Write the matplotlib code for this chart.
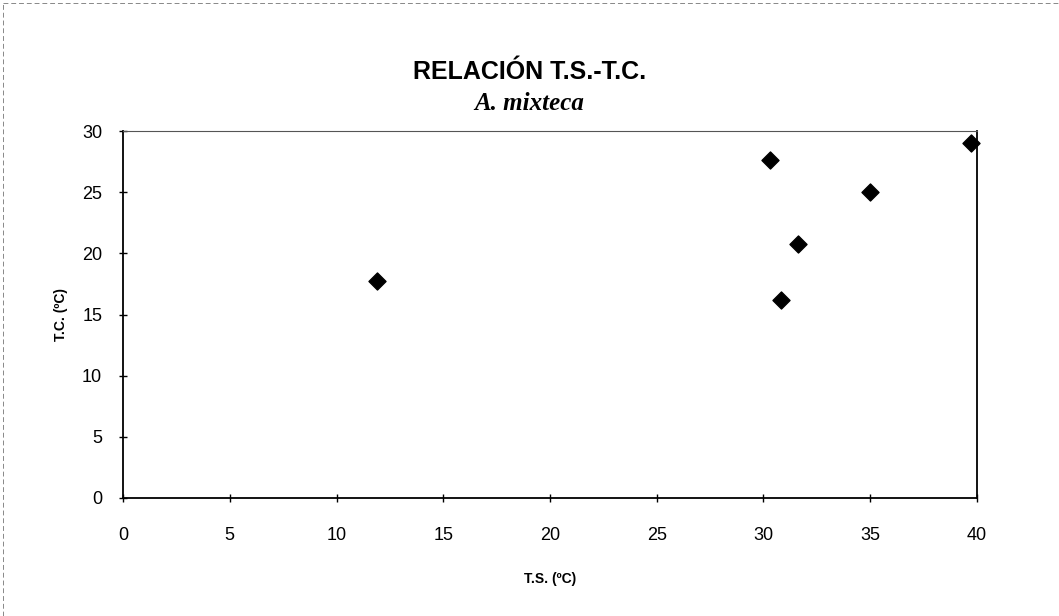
import matplotlib.pyplot as plt

# datos
ts = [11.9, 30.3, 30.8, 31.6, 35.0, 39.7]
tc = [17.7, 27.6, 16.2, 20.8, 25.0, 29.0]
x_ticks = [0, 5, 10, 15, 20, 25, 30, 35, 40]
y_ticks = [0, 5, 10, 15, 20, 25, 30]

plt.rcParams['font.family'] = ['Liberation Sans', 'DejaVu Sans']

fig = plt.figure(figsize=(10.59, 6.16), dpi=100)
ax = fig.add_axes([123 / 1059, 1 - 498 / 616, (977 - 123) / 1059, (498 - 131) / 616])

ax.scatter(ts, tc, marker='D', s=75, color='black', zorder=3, clip_on=False)

ax.set_xlim(0, 40)
ax.set_ylim(0, 30)
ax.set_xticks(x_ticks)
ax.set_yticks(y_ticks)
ax.tick_params(direction='inout', length=6, width=1, labelsize=13)
ax.tick_params(axis='x', pad=18)
ax.tick_params(axis='y', pad=12)

for side in ['left', 'bottom', 'right']:
    ax.spines[side].set_linewidth(1.3)
ax.spines['top'].set_linewidth(0.8)
ax.spines['top'].set_color('#555555')

ax.set_xlabel('T.S. (ºC)', fontsize=10, fontweight='bold', labelpad=20)
ax.set_ylabel('T.C. (ºC)', fontsize=10, fontweight='bold', labelpad=10)

fig.text(0.5, 1 - 72 / 616, 'RELACIÓN T.S.-T.C.', ha='center', va='center',
         fontsize=18, fontweight='bold')
fig.text(0.5, 1 - 104 / 616, 'A. mixteca', ha='center', va='center',
         fontsize=18, fontweight='bold', style='italic', family='Liberation Serif')

# marco exterior tenue (arriba e izquierda)
fig.add_artist(plt.Line2D([0.003, 0.003], [0.0, 0.995], transform=fig.transFigure,
                          color='#888888', linewidth=0.7, linestyle=(0, (5, 3))))
fig.add_artist(plt.Line2D([0.003, 1.0], [0.995, 0.995], transform=fig.transFigure,
                          color='#888888', linewidth=0.7, linestyle=(0, (5, 3))))

plt.savefig('out.png', dpi=100)
